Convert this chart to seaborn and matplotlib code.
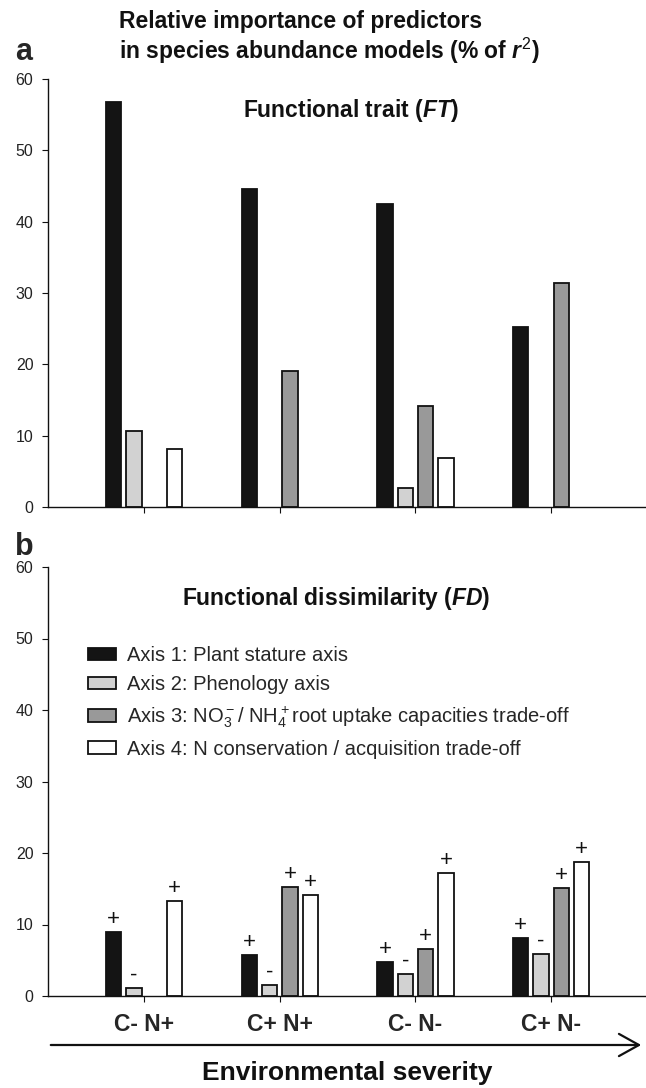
import numpy as np
import pandas as pd
import matplotlib
matplotlib.use("Agg")
import matplotlib.pyplot as plt
import seaborn as sns

# groups along the environmental severity gradient
groups = ["C- N+", "C+ N+", "C- N-", "C+ N-"]
axis_names = [
    "Axis 1: Plant stature axis",
    "Axis 2: Phenology axis",
    r"Axis 3: NO$_3^-$/ NH$_4^+$root uptake capacities trade-off",
    "Axis 4: N conservation / acquisition trade-off",
]

# panel a: functional trait (FT), % of r2 (nan = no bar)
ft_axis1 = [56.8, 44.6, 42.5, 25.2]
ft_axis2 = [10.7, np.nan, 2.7, np.nan]
ft_axis3 = [np.nan, 19.0, 14.2, 31.4]
ft_axis4 = [8.1, np.nan, 6.9, np.nan]

# panel b: functional dissimilarity (FD)
fd_axis1 = [9.0, 5.8, 4.8, 8.1]
fd_axis2 = [1.1, 1.6, 3.1, 5.9]
fd_axis3 = [np.nan, 15.3, 6.6, 15.1]
fd_axis4 = [13.3, 14.1, 17.2, 18.8]

# sign of effect shown above FD bars
fd_sign1 = ["+", "+", "+", "+"]
fd_sign2 = ["-", "-", "-", "-"]
fd_sign3 = ["", "+", "+", "+"]
fd_sign4 = ["+", "+", "+", "+"]

yticks = [0, 10, 20, 30, 40, 50, 60]

colors = ["#141414", "#d2d2d2", "#999999", "#ffffff"]


def to_long(series):
    rows = []
    for name, vals in zip(axis_names, series):
        for g, v in zip(groups, vals):
            if not np.isnan(v):
                rows.append({"group": g, "axis": name, "value": v})
    return pd.DataFrame(rows)


ft_df = to_long([ft_axis1, ft_axis2, ft_axis3, ft_axis4])
fd_df = to_long([fd_axis1, fd_axis2, fd_axis3, fd_axis4])
fd_signs = [fd_sign1, fd_sign2, fd_sign3, fd_sign4]

sns.set_style("white")
plt.rcParams["font.family"] = ["Liberation Sans", "DejaVu Sans"]
plt.rcParams["mathtext.fontset"] = "custom"
plt.rcParams["mathtext.rm"] = "Liberation Sans"
plt.rcParams["mathtext.it"] = "Liberation Sans:italic:bold"
plt.rcParams["mathtext.bf"] = "Liberation Sans:bold"

W, H = 646, 1088
fig = plt.figure(figsize=(W / 100, H / 100), dpi=100)


def px_axes(left, right, top, bottom):
    return fig.add_axes([left / W, 1 - bottom / H, (right - left) / W, (bottom - top) / H])


ax_a = px_axes(48, 646, 79, 507)
ax_b = px_axes(48, 646, 567, 996)


def draw_panel(ax, df):
    sns.barplot(data=df, x="group", y="value", hue="axis", order=groups,
                hue_order=axis_names, palette=colors, width=0.6, gap=0.25,
                edgecolor="#111111", linewidth=1.3, legend=False, ax=ax)
    ax.set_xlim(-0.71, 3.70)
    ax.set_ylim(0, 60)
    ax.set_yticks(yticks)
    ax.set_xlabel("")
    ax.set_ylabel("")
    for s in ["top", "right"]:
        ax.spines[s].set_visible(False)
    for s in ["left", "bottom"]:
        ax.spines[s].set_color("#111111")
        ax.spines[s].set_linewidth(1.0)
    ax.tick_params(axis="y", direction="out", length=4.5, width=0.8, color="#111111",
                   labelsize=11.5, labelcolor="#222222", pad=6, left=True)
    ax.tick_params(axis="x", direction="out", length=4.5, width=0.8, color="#111111",
                   bottom=True)


draw_panel(ax_a, ft_df)
ax_a.set_xticklabels([])
draw_panel(ax_b, fd_df)
ax_b.set_xticks(range(len(groups)))
ax_b.set_xticklabels(groups, fontsize=16.5, fontweight="bold")
ax_b.tick_params(axis="x", pad=8)

# signs above the FD bars
for i, cont in enumerate(ax_b.containers):
    for bar in cont:
        gi = int(round(bar.get_x() + bar.get_width() / 2))
        sign = fd_signs[i][gi]
        if sign:
            ax_b.annotate(sign, (bar.get_x() + bar.get_width() / 2, bar.get_height()),
                          xytext=(0, 9), textcoords="offset points",
                          ha="center", va="center", fontsize=16, color="#111111")

ax_b.legend(ax_b.containers, axis_names, loc="upper left", frameon=False,
            bbox_to_anchor=(88 / W, 1 - 646 / H), bbox_transform=fig.transFigure,
            fontsize=14.5, handlelength=1.4, handleheight=0.6, handletextpad=0.55,
            labelspacing=0.5, borderpad=0, borderaxespad=0)

# titles and panel letters
fig.text(119 / W, 1 - 28 / H, "Relative importance of predictors",
         fontsize=16.5, fontweight="bold", va="baseline", color="#111111")
fig.text(119 / W, 1 - 59 / H, r"in species abundance models (% of $r^2$)",
         fontsize=16.5, fontweight="bold", va="baseline", color="#111111")
fig.text(15 / W, 1 - 60 / H, "a", fontsize=22, fontweight="bold", va="baseline")
fig.text(15 / W, 1 - 555 / H, "b", fontsize=22, fontweight="bold", va="baseline")
fig.text(351 / W, 1 - 110 / H, r"Functional trait ($FT$)", fontsize=16.5,
         fontweight="bold", ha="center", va="center", color="#111111")
fig.text(336 / W, 1 - 598 / H, r"Functional dissimilarity ($FD$)", fontsize=16.5,
         fontweight="bold", ha="center", va="center", color="#111111")

# severity arrow
fig.add_artist(matplotlib.patches.FancyArrowPatch(
    (48 / W, 1 - 1045 / H), (644 / W, 1 - 1045 / H), transform=fig.transFigure,
    arrowstyle="->,head_length=0.72,head_width=0.4", mutation_scale=20,
    lw=1.6, color="#111111"))
fig.text(347 / W, 1 - 1073 / H, "Environmental severity", fontsize=19,
         fontweight="bold", ha="center", va="center", color="#111111")

fig.savefig("out.png", dpi=100)
